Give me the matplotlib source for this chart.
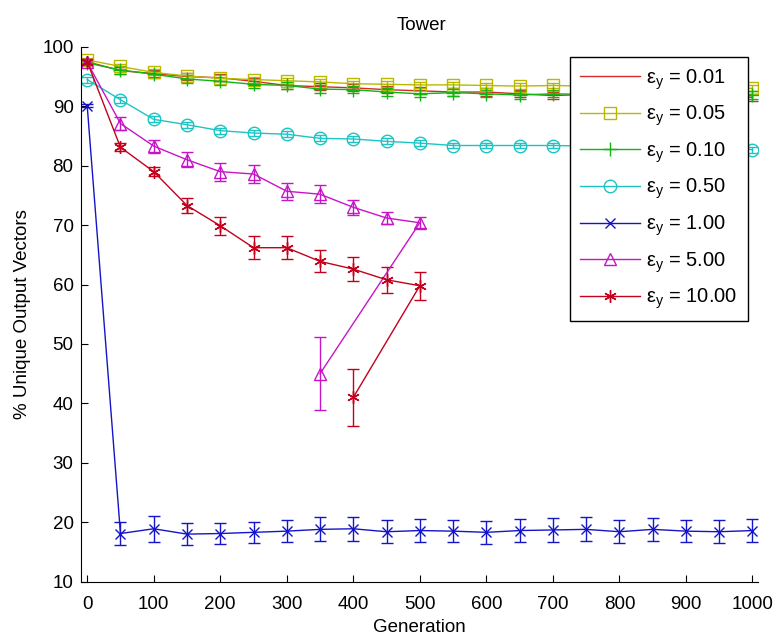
import numpy as np
import matplotlib
matplotlib.use('Agg')
from matplotlib import pyplot as plt
from matplotlib.lines import Line2D

plt.rcParams['font.family'] = ['Liberation Sans', 'DejaVu Sans']

# generations for the long runs
gen = list(range(0, 1001, 50))
# the two high-epsilon runs stop at 500 and end with one stray point
gen5 = list(range(0, 501, 50)) + [350]
gen10 = list(range(0, 501, 50)) + [400]

u001 = [97.5, 96.0, 95.5, 95.0, 94.8, 94.2, 93.5, 93.3, 93.1, 92.8, 92.6,
        92.4, 92.4, 92.1, 91.8, 92.0, 91.9, 92.0, 91.8, 91.9, 91.5]
e001 = [0.4] + [0.6] * 20
u005 = [97.8, 96.7, 95.7, 95.1, 94.7, 94.5, 94.3, 94.1, 93.8, 93.7, 93.6,
        93.6, 93.5, 93.4, 93.5, 93.4, 93.4, 93.4, 93.3, 93.3, 93.0]
e005 = [0.4] + [0.5] * 20
u010 = [97.3, 96.1, 95.4, 94.6, 94.2, 93.7, 93.5, 92.9, 92.8, 92.4, 92.1,
        92.3, 92.1, 91.9, 92.1, 92.0, 91.9, 91.9, 92.0, 91.9, 91.9]
e010 = [0.4] + [0.6] * 20
u050 = [94.5, 91.1, 87.8, 86.9, 85.9, 85.5, 85.3, 84.6, 84.5, 84.1, 83.8,
        83.4, 83.4, 83.4, 83.4, 83.3, 83.3, 83.2, 83.2, 83.1, 82.7]
e050 = [0.5] * 21
u100 = [90.1, 18.1, 18.9, 18.0, 18.1, 18.3, 18.5, 18.8, 18.9, 18.4, 18.6,
        18.5, 18.3, 18.6, 18.7, 18.8, 18.4, 18.8, 18.5, 18.4, 18.6]
e100 = [0.3, 1.9, 2.2, 1.9, 1.8, 1.8, 1.9, 2.0, 2.0, 1.9, 1.9,
        1.9, 1.9, 1.9, 2.0, 2.0, 1.9, 1.9, 1.9, 1.9, 1.9]
u500 = [97.4, 87.1, 83.3, 81.0, 79.0, 78.6, 75.7, 75.2, 73.0, 71.2, 70.4, 45.0]
e500 = [0.4, 1.1, 1.1, 1.3, 1.5, 1.5, 1.4, 1.5, 1.3, 1.0, 0.9, 6.1]
u1000 = [97.5, 83.1, 79.0, 73.3, 69.9, 66.2, 66.2, 63.9, 62.6, 60.8, 59.8, 41.0]
e1000 = [0.4, 0.7, 0.8, 1.2, 1.5, 1.9, 1.9, 1.85, 2.05, 2.2, 2.35, 4.8]

series = [
    (gen, u001, e001, '#d42a2a', 'None', 'ε$_\\mathregular{y}$ = 0.01', 0),
    (gen, u005, e005, '#b8b800', 's', 'ε$_\\mathregular{y}$ = 0.05', 8),
    (gen, u010, e010, '#12b412', '+', 'ε$_\\mathregular{y}$ = 0.10', 10),
    (gen, u050, e050, '#1ec4c4', 'o', 'ε$_\\mathregular{y}$ = 0.50', 9),
    (gen, u100, e100, '#1414c8', 'x', 'ε$_\\mathregular{y}$ = 1.00', 7),
    (gen5, u500, e500, '#c814c8', '^', 'ε$_\\mathregular{y}$ = 5.00', 9),
    (gen10, u1000, e1000, '#c4001c', (6, 2, 0), 'ε$_\\mathregular{y}$ = 10.00', 9),
]

fig = plt.figure(figsize=(7.82, 6.42), dpi=100)
ax = fig.add_axes([0.103, 0.094, 0.866, 0.833])

handles = []
for x, y, e, c, m, lab, ms in series:
    ax.errorbar(x, y, yerr=e, color=c, marker=m, markersize=ms,
                markerfacecolor='none', markeredgecolor=c, markeredgewidth=1.0,
                linewidth=1.0, elinewidth=1.0, capsize=4.3, capthick=1.0)
    # legend shows just line + marker, no error bar
    handles.append(Line2D([], [], color=c, marker=m, markersize=ms,
                          markerfacecolor='none', markeredgewidth=1.0,
                          linewidth=1.0, label=lab))

ax.set_xlim(-10, 1008)
ax.set_ylim(10, 100)
ax.set_xticks(range(0, 1001, 100))
ax.set_yticks(range(10, 101, 10))
ax.tick_params(direction='in', length=5, labelsize=13.5, top=False, right=False)
ax.tick_params(axis='x', pad=10)
ax.tick_params(axis='y', pad=5)
for s in ['top', 'right']:
    ax.spines[s].set_visible(False)
ax.set_xlabel('Generation', fontsize=13.5, labelpad=5)
ax.set_ylabel('% Unique Output Vectors', fontsize=13.5, labelpad=8)
ax.set_title('Tower', fontsize=13.5, pad=12, x=0.504)

leg = ax.legend(handles=handles, loc='upper right', bbox_to_anchor=(0.985, 0.981),
                fontsize=14.5, frameon=True, fancybox=False, framealpha=1,
                edgecolor='black', handlelength=3.0, handletextpad=0.3,
                labelspacing=0.6, borderpad=0.5, borderaxespad=0)
leg.get_frame().set_linewidth(1.0)

plt.savefig('out.png', dpi=100)
